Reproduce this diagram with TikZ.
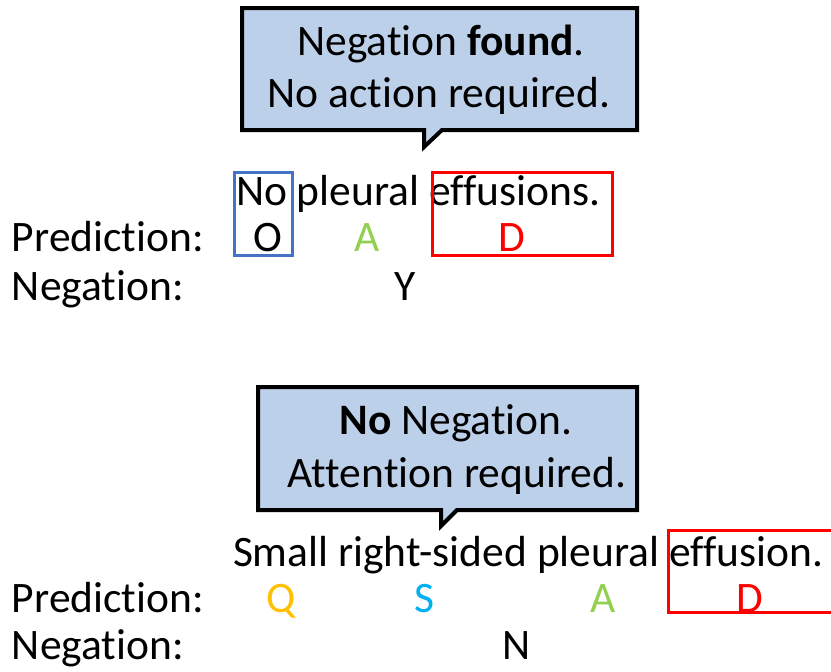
\documentclass[tikz,border=0pt]{standalone}
\usepackage{fontspec}
\setmainfont{Carlito}[Ligatures={NoCommon}]
\definecolor{calloutfill}{RGB}{189,208,233}
\definecolor{boxblue}{RGB}{68,114,196}
\definecolor{boxred}{RGB}{255,0,0}
\definecolor{tagA}{RGB}{146,208,80}
\definecolor{tagQ}{RGB}{255,192,0}
\definecolor{tagS}{RGB}{0,176,240}
\definecolor{tagD}{RGB}{255,0,0}
\tikzset{
  txt/.style={inner sep=0pt, outer sep=0pt, font=\fontsize{43.5}{52}\selectfont, anchor=base},
  lbl/.style={txt, anchor=base west},
  callout/.style={draw=black, line width=4pt, fill=calloutfill, line join=miter},
  tagbox/.style={line width=3pt}
}
\begin{document}
\begin{tikzpicture}[x=1pt, y=-1pt]
\useasboundingbox (0,0) rectangle (831,672);

% ---- first example: negated finding ----
\draw[callout] (242,8) -- (637,8) -- (637,130) -- (442,130) -- (424,147)
  -- (424,130) -- (242,130) -- cycle;
\node[txt] (c1a) at (441,55) {Negation \textbf{found}.};
\node[txt] (c1b) at (439,107) {No action required.};

\node[lbl] (s1) at (236,205) {No pleural effusions.};
\node[lbl] (p1) at (12,251) {Prediction:};
\node[lbl] (n1) at (12,300) {Negation:};
\node[txt] (t1o) at (268,251) {O};
\node[txt, text=tagA] (t1a) at (367,251) {A};
\node[txt, text=tagD] (t1d) at (512,251) {D};
\node[txt] (g1) at (405,300) {Y};
\draw[tagbox, draw=boxblue] (234,172) rectangle (292,255);
\draw[tagbox, draw=boxred] (432,172) rectangle (612,255);

% ---- second example: positive finding ----
\draw[callout] (258,387) -- (637,387) -- (637,510) -- (457,510) -- (441,526)
  -- (441,510) -- (258,510) -- cycle;
\node[txt] (c2a) at (456,434) {\textbf{No} Negation.};
\node[txt] (c2b) at (457,487) {Attention required.};

\node[lbl] (s2) at (233,566) {Small right-sided pleural effusion.};
\node[lbl] (p2) at (12,612) {Prediction:};
\node[lbl] (n2) at (12,659) {Negation:};
\node[txt, text=tagQ] (t2q) at (281,612) {Q};
\node[txt, text=tagS] (t2s) at (424,612) {S};
\node[txt, text=tagA] (t2a) at (603,612) {A};
\node[txt, text=tagD] (t2d) at (750,612) {D};
\node[txt] (g2) at (517,659) {N};
\draw[tagbox, draw=boxred] (668,530) rectangle (840,612);
\end{tikzpicture}
\end{document}
